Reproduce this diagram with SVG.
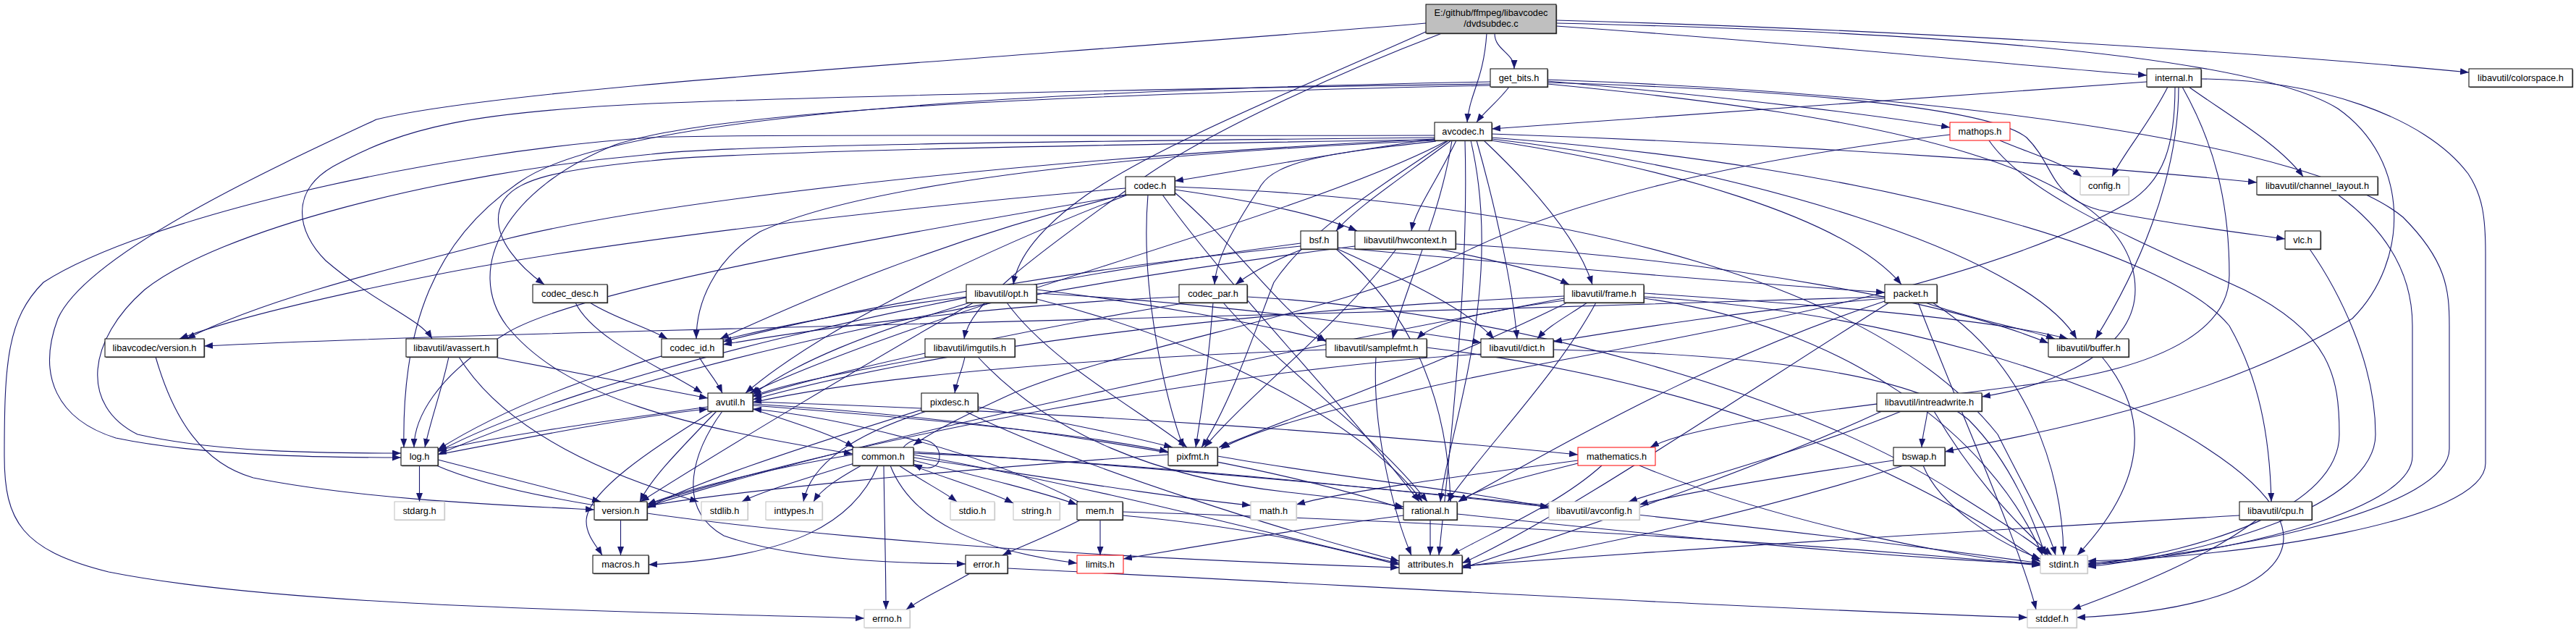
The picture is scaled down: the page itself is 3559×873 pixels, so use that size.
<svg xmlns="http://www.w3.org/2000/svg" width="3559" height="873" viewBox="0 0 3559 873">
<defs>
<marker id="a" viewBox="0 0 12 9" refX="12" refY="4.5" markerWidth="12" markerHeight="9" markerUnits="userSpaceOnUse" orient="auto"><path d="M0,0 L12,4.5 L0,9 z" fill="#191970"/></marker>
</defs>
<style>
.box{fill:#fff;stroke:#000;stroke-width:1}
.sh{fill:#555}
.gray .box{stroke:#bfbfbf}
.gray .sh{fill:#d6d6d6}
.red .box{stroke:#f00}
.root .box{fill:#bfbfbf}
text{font-family:"Liberation Sans",Arial,Helvetica,sans-serif;font-size:12.8px;fill:#000;text-anchor:middle}
#edges path{fill:none;stroke:#191970;stroke-width:1.1;marker-end:url(#a)}
</style>
<rect width="3559" height="873" fill="#fff"/>
<g id="edges">
<path d="M2065,46 C2065,70 2092,72 2092,95"/>
<path d="M2054,46 C2050,110 2030,130 2027,169"/>
<path d="M2150,36 C2500,60 2800,92 2966,104"/>
<path d="M2150,28 C2600,40 3100,70 3411,100"/>
<path d="M2150,32 C2600,42 3100,70 3230,150 C3330,220 3330,360 3250,440 C3050,560 2800,600 2687,624"/>
<path d="M1972,43 C1800,120 1600,200 1500,270 C1430,320 1405,360 1400,393"/>
<path d="M1992,46 C1850,100 1650,190 1560,260 C1420,360 1340,420 1332,468"/>
<path d="M1970,32 C1400,80 700,120 520,165 C380,230 120,350 80,440 C50,520 80,580 160,605 C280,630 450,632 554,632"/>
<path d="M1982,187 C1500,188 1000,185 900,190 C600,210 200,300 60,390 C10,440 6,500 6,630 C6,720 30,760 150,790 C400,840 900,845 1194,854"/>
<path d="M1982,190 C1500,195 1000,200 900,213 C600,240 300,320 200,400 C120,470 110,560 190,600 C300,625 450,626 554,626"/>
<path d="M1982,192 C1400,220 900,280 700,330 C500,380 350,420 258,468"/>
<path d="M1982,192 C1850,210 1720,235 1623,250"/>
<path d="M1982,193 C1500,200 1000,210 900,222 C760,235 700,250 690,290 C680,330 720,370 752,393"/>
<path d="M1984,195 C1850,210 1760,220 1740,260 C1700,320 1680,360 1678,393"/>
<path d="M1984,194 C1600,210 1200,250 1050,320 C985,360 962,420 962,468"/>
<path d="M2000,194 C1800,300 1300,420 1036,543"/>
<path d="M2006,194 C1990,300 1940,400 1924,468"/>
<path d="M2024,194 C2030,400 2000,650 1988,767"/>
<path d="M2061,192 C2400,230 2800,350 2869,468"/>
<path d="M2061,190 C2600,230 3000,350 3080,450 C3120,520 3136,600 3138,693"/>
<path d="M2061,185 C2500,200 2900,230 3118,252"/>
<path d="M2040,194 C2070,300 2090,400 2096,468"/>
<path d="M2050,194 C2120,260 2180,330 2200,393"/>
<path d="M2012,194 C1985,250 1955,290 1950,319"/>
<path d="M2000,195 C1870,280 1800,330 1760,390 C1740,440 1700,560 1660,618"/>
<path d="M2032,194 C2080,400 2000,600 1990,693"/>
<path d="M2005,194 C1930,250 1870,290 1846,319"/>
<path d="M2060,194 C2300,230 2550,300 2627,393"/>
<path d="M2085,120 C2070,140 2050,155 2040,169"/>
<path d="M2138,110 C2700,130 3200,200 3320,300 C3380,360 3384,400 3384,450 L3384,620 C3384,700 3100,762 2884,778"/>
<path d="M2059,118 C1500,130 1000,150 850,200 C700,260 640,370 700,450 C780,550 950,590 1178,627"/>
<path d="M2138,116 C2600,160 2950,230 2950,400 C2950,480 2850,530 2738,548"/>
<path d="M2059,113 C1400,125 850,160 720,250 C600,330 555,450 558,618"/>
<path d="M2059,116 C1600,122 1100,135 900,143 C650,155 560,175 460,230 C400,265 410,320 450,360 C520,420 580,440 597,468"/>
<path d="M2138,112 C2400,135 2600,160 2694,176"/>
<path d="M2138,114 C2500,125 2750,150 2800,190 C2840,230 2830,270 2900,290 C3000,310 3100,322 3157,330"/>
<path d="M2966,113 C2600,140 2300,160 2061,178"/>
<path d="M2995,120 C2970,170 2935,210 2918,244"/>
<path d="M3024,120 C3080,160 3150,200 3182,244"/>
<path d="M3041,109 C3200,110 3350,160 3410,240 C3430,270 3434,300 3434,350 L3434,640 C3434,720 3100,770 2884,775"/>
<path d="M3015,120 C3060,200 3080,280 3080,380 C3080,450 3000,500 2850,525 C2600,560 2350,580 2280,618"/>
<path d="M3005,120 C3005,200 2990,250 2940,280 C2700,420 2200,480 1950,540 C1800,575 1720,600 1687,620"/>
<path d="M3010,120 C3010,250 2950,380 2895,468"/>
<path d="M2763,194 C2800,210 2850,225 2876,244"/>
<path d="M2694,186 C2400,220 2150,280 2000,360 C1850,430 1550,480 1400,543 C1330,575 1290,595 1262,615"/>
<path d="M2748,194 C2800,270 2950,330 3100,400 C3220,460 3232,520 3232,600 C3232,700 3050,760 2884,781"/>
<path d="M3191,344 C3230,400 3282,500 3282,600 C3282,700 3050,765 2884,783"/>
<path d="M3230,269 C3300,320 3333,380 3333,450 L3333,630 C3333,710 3050,770 2884,780"/>
<path d="M1555,260 C1200,290 800,340 600,380 C450,410 320,440 248,468"/>
<path d="M1623,258 C2200,280 2600,400 2760,600 C2800,680 2830,730 2840,767"/>
<path d="M1623,262 C1750,280 1830,300 1875,319"/>
<path d="M1623,266 C1700,330 1760,420 1832,472"/>
<path d="M1558,269 C1400,330 1150,440 1030,543"/>
<path d="M1560,269 C1200,330 800,400 700,460 C600,520 572,580 572,618"/>
<path d="M1586,269 C1575,400 1610,550 1635,618"/>
<path d="M1606,269 C1700,400 1850,550 1961,693"/>
<path d="M1558,268 C1300,330 1100,420 995,468"/>
<path d="M795,418 C820,470 920,510 970,543"/>
<path d="M815,418 C850,440 890,450 922,468"/>
<path d="M966,493 C975,510 990,525 998,543"/>
<path d="M1629,410 C1400,420 1150,450 999,476"/>
<path d="M1640,418 C1450,450 1200,500 1040,548"/>
<path d="M1676,418 C1670,500 1660,570 1652,618"/>
<path d="M1690,418 C1760,500 1900,600 1972,693"/>
<path d="M1723,410 C2100,430 2500,550 2700,680 C2780,730 2810,750 2830,767"/>
<path d="M1800,344 C1760,360 1730,375 1707,393"/>
<path d="M1848,342 C2100,365 2400,390 2604,404"/>
<path d="M1848,344 C1950,390 2030,430 2064,468"/>
<path d="M1797,336 C1300,400 800,520 605,624"/>
<path d="M1846,344 C1950,430 2000,550 2004,693"/>
<path d="M1797,340 C1500,370 1200,420 999,472"/>
<path d="M2604,410 C2000,430 1200,450 900,457 C600,465 400,472 282,478"/>
<path d="M2660,418 C2720,440 2800,455 2839,468"/>
<path d="M2670,418 C2800,500 2850,650 2851,767"/>
<path d="M2650,418 C2700,550 2790,750 2813,842"/>
<path d="M2610,418 C2400,550 2150,720 2020,778"/>
<path d="M2604,412 C2400,430 2250,455 2146,472"/>
<path d="M2604,416 C2350,500 2150,620 2015,693"/>
<path d="M215,493 C240,580 280,640 350,660 C500,690 700,698 821,704"/>
<path d="M1987,344 C2070,360 2130,375 2168,393"/>
<path d="M2011,337 C2400,360 2700,420 2830,474"/>
<path d="M1929,344 C1850,450 1720,550 1664,618"/>
<path d="M1872,340 C1400,400 900,500 605,628"/>
<path d="M2271,410 C2600,430 2900,520 3050,620 C3250,750 3150,840 2869,853"/>
<path d="M2271,412 C2550,450 2750,600 2822,767"/>
<path d="M2161,409 C1700,430 1300,480 1040,552"/>
<path d="M2271,405 C2500,420 2750,440 2857,468"/>
<path d="M2193,418 C2160,440 2140,450 2124,468"/>
<path d="M2205,418 C2150,520 2050,620 2000,693"/>
<path d="M2161,415 C2050,430 1980,445 1958,468"/>
<path d="M2165,418 C2000,500 1800,570 1684,618"/>
<path d="M2161,412 C1800,480 1200,600 894,700"/>
<path d="M2904,493 C2960,560 2980,650 2870,767"/>
<path d="M3094,712 C2700,735 2300,760 2020,782"/>
<path d="M3118,718 C3050,770 2950,810 2863,842"/>
<path d="M2146,483 C2450,490 2650,520 2720,580 C2780,640 2810,720 2826,767"/>
<path d="M2046,489 C1700,510 1200,600 894,697"/>
<path d="M1832,483 C1500,495 1200,520 1040,556"/>
<path d="M1971,480 C2300,520 2600,620 2819,776"/>
<path d="M1901,493 C1895,600 1930,720 1950,767"/>
<path d="M1340,418 C1200,460 1100,500 1040,545"/>
<path d="M1335,410 C1000,450 750,530 605,621"/>
<path d="M1391,418 C1450,500 1580,570 1640,618"/>
<path d="M1432,413 C1700,480 1900,600 1965,693"/>
<path d="M1432,405 C1700,420 1900,450 2046,473"/>
<path d="M1432,400 C1600,420 1750,450 1832,470"/>
<path d="M1345,418 C1200,500 1000,620 885,693"/>
<path d="M1333,493 C1330,510 1322,525 1319,543"/>
<path d="M1282,493 C1200,510 1100,525 1040,547"/>
<path d="M1351,493 C1450,600 1600,660 1780,680 C1850,688 1900,693 1939,700"/>
<path d="M620,493 C610,540 595,580 587,618"/>
<path d="M634,493 C700,600 850,660 965,693"/>
<path d="M687,494 C800,515 900,535 978,550"/>
<path d="M1040,565 C1100,585 1150,600 1180,618"/>
<path d="M998,568 C960,620 930,700 1000,740 C1100,775 1250,778 1334,779"/>
<path d="M1040,558 C1400,580 1750,640 1939,703"/>
<path d="M990,568 C940,620 900,660 884,693"/>
<path d="M985,568 C900,620 810,680 810,720 C810,740 825,755 832,767"/>
<path d="M1040,555 C1500,570 1900,600 2180,628"/>
<path d="M978,562 C850,580 700,600 605,622"/>
<path d="M1040,560 C1300,580 1500,600 1614,624"/>
<path d="M1280,568 C1180,600 1120,640 1110,693"/>
<path d="M1333,568 C1500,650 1800,740 1933,775"/>
<path d="M1351,562 C1450,580 1550,600 1620,618"/>
<path d="M1273,566 C1100,620 950,670 894,702"/>
<path d="M2672,568 C2720,650 2780,720 2835,767"/>
<path d="M2627,568 C2500,620 2350,660 2250,693"/>
<path d="M2600,568 C2400,660 2150,740 2020,785"/>
<path d="M2663,568 C2660,590 2656,600 2655,618"/>
<path d="M579.5,643 L579.5,693"/>
<path d="M605,628 C750,600 880,575 978,565"/>
<path d="M603,643 C800,730 1500,770 1933,784"/>
<path d="M605,635 C700,660 780,680 830,693"/>
<path d="M1221,643 C1222,720 1224,790 1224,842"/>
<path d="M1190,643 C1160,660 1135,675 1124,693"/>
<path d="M1180,640 C1100,665 1050,680 1025,693"/>
<path d="M1242,643 C1275,665 1305,680 1322,693"/>
<path d="M1255,641 C1320,665 1370,680 1400,695"/>
<path d="M1262,636 C1360,660 1440,680 1488,697"/>
<path d="M1262,632 C1450,660 1600,685 1728,698"/>
<path d="M1230,643 C1260,720 1350,760 1488,778"/>
<path d="M1213,643 C1180,720 1100,770 896,780"/>
<path d="M1178,628 C1050,650 950,675 894,697"/>
<path d="M1262,624 C1700,650 2400,720 2819,778"/>
<path d="M1262,628 C1550,680 1800,750 1933,778"/>
<path d="M1262,626 C1600,640 1950,680 2140,700"/>
<path d="M1248,618 C1265,598 1298,608 1298,630 C1298,648 1280,650 1262,641"/>
<path d="M1682,630 C1850,660 2050,680 2140,702"/>
<path d="M1614,628 C1300,650 1000,680 894,699"/>
<path d="M2180,640 C2100,660 2040,675 2015,693"/>
<path d="M2213,643 C2150,700 2050,740 2005,767"/>
<path d="M2180,636 C2000,660 1850,680 1791,697"/>
<path d="M2265,643 C2450,720 2700,770 2819,780"/>
<path d="M2616,636 C2450,660 2330,680 2265,697"/>
<path d="M2630,643 C2450,700 2200,760 2020,783"/>
<path d="M2657,643 C2680,700 2760,750 2819,772"/>
<path d="M1520,718 L1520,767"/>
<path d="M1493,718 C1450,740 1410,755 1385,767"/>
<path d="M1490,693 C1350,620 1150,575 1040,565"/>
<path d="M1551,707 C2000,720 2500,750 2819,781"/>
<path d="M1551,712 C1750,730 1850,760 1933,780"/>
<path d="M1976,718 L1976,767"/>
<path d="M1939,712 C1800,730 1650,755 1552,772"/>
<path d="M2013,710 C2300,740 2600,770 2819,779"/>
<path d="M1340,792 C1310,810 1275,825 1252,842"/>
<path d="M1392,785 C1900,810 2400,840 2801,853"/>
<path d="M857.5,718 L857.5,767"/>
</g>
<g id="n_root" class="root"><rect class="sh" x="1971.2" y="7.2" width="180" height="40"/><rect class="box" x="1970" y="6" width="180" height="40"/><text x="2060" y="21.5">E:/github/ffmpeg/libavcodec</text><text x="2060" y="37">/dvdsubdec.c</text></g>
<g id="n_get_bits"><rect class="sh" x="2060.2" y="96.2" width="79" height="25"/><rect class="box" x="2059" y="95" width="79" height="25"/><text x="2098.5" y="112">get_bits.h</text></g>
<g id="n_internal"><rect class="sh" x="2967.2" y="96.2" width="75" height="25"/><rect class="box" x="2966" y="95" width="75" height="25"/><text x="3003.5" y="112">internal.h</text></g>
<g id="n_colorspace"><rect class="sh" x="3412.2" y="96.2" width="143" height="25"/><rect class="box" x="3411" y="95" width="143" height="25"/><text x="3482.5" y="112">libavutil/colorspace.h</text></g>
<g id="n_avcodec"><rect class="sh" x="1983.2" y="170.2" width="79" height="25"/><rect class="box" x="1982" y="169" width="79" height="25"/><text x="2021.5" y="186">avcodec.h</text></g>
<g id="n_mathops" class="red"><rect class="box" x="2694" y="169" width="83" height="25"/><text x="2735.5" y="186">mathops.h</text></g>
<g id="n_codec"><rect class="sh" x="1556.2" y="245.2" width="68" height="25"/><rect class="box" x="1555" y="244" width="68" height="25"/><text x="1589" y="261">codec.h</text></g>
<g id="n_config" class="gray"><rect class="sh" x="2875.2" y="245.2" width="67" height="25"/><rect class="box" x="2874" y="244" width="67" height="25"/><text x="2907.5" y="261">config.h</text></g>
<g id="n_channel_layout"><rect class="sh" x="3119.2" y="245.2" width="167" height="25"/><rect class="box" x="3118" y="244" width="167" height="25"/><text x="3201.5" y="261">libavutil/channel_layout.h</text></g>
<g id="n_bsf"><rect class="sh" x="1798.2" y="320.2" width="51" height="25"/><rect class="box" x="1797" y="319" width="51" height="25"/><text x="1822.5" y="336">bsf.h</text></g>
<g id="n_hwcontext"><rect class="sh" x="1873.2" y="320.2" width="139" height="25"/><rect class="box" x="1872" y="319" width="139" height="25"/><text x="1941.5" y="336">libavutil/hwcontext.h</text></g>
<g id="n_vlc"><rect class="sh" x="3158.2" y="320.2" width="49" height="25"/><rect class="box" x="3157" y="319" width="49" height="25"/><text x="3181.5" y="336">vlc.h</text></g>
<g id="n_codec_desc"><rect class="sh" x="737.2" y="394.2" width="103" height="25"/><rect class="box" x="736" y="393" width="103" height="25"/><text x="787.5" y="410">codec_desc.h</text></g>
<g id="n_opt"><rect class="sh" x="1336.2" y="394.2" width="97" height="25"/><rect class="box" x="1335" y="393" width="97" height="25"/><text x="1383.5" y="410">libavutil/opt.h</text></g>
<g id="n_codec_par"><rect class="sh" x="1630.2" y="394.2" width="94" height="25"/><rect class="box" x="1629" y="393" width="94" height="25"/><text x="1676" y="410">codec_par.h</text></g>
<g id="n_frame"><rect class="sh" x="2162.2" y="394.2" width="110" height="25"/><rect class="box" x="2161" y="393" width="110" height="25"/><text x="2216" y="410">libavutil/frame.h</text></g>
<g id="n_packet"><rect class="sh" x="2605.2" y="394.2" width="72" height="25"/><rect class="box" x="2604" y="393" width="72" height="25"/><text x="2640" y="410">packet.h</text></g>
<g id="n_lavc_version"><rect class="sh" x="146.2" y="469.2" width="137" height="25"/><rect class="box" x="145" y="468" width="137" height="25"/><text x="213.5" y="485">libavcodec/version.h</text></g>
<g id="n_avassert"><rect class="sh" x="562.2" y="469.2" width="126" height="25"/><rect class="box" x="561" y="468" width="126" height="25"/><text x="624" y="485">libavutil/avassert.h</text></g>
<g id="n_codec_id"><rect class="sh" x="915.2" y="469.2" width="85" height="25"/><rect class="box" x="914" y="468" width="85" height="25"/><text x="956.5" y="485">codec_id.h</text></g>
<g id="n_imgutils"><rect class="sh" x="1279.2" y="469.2" width="124" height="25"/><rect class="box" x="1278" y="468" width="124" height="25"/><text x="1340" y="485">libavutil/imgutils.h</text></g>
<g id="n_samplefmt"><rect class="sh" x="1833.2" y="469.2" width="139" height="25"/><rect class="box" x="1832" y="468" width="139" height="25"/><text x="1901.5" y="485">libavutil/samplefmt.h</text></g>
<g id="n_dict"><rect class="sh" x="2047.2" y="469.2" width="100" height="25"/><rect class="box" x="2046" y="468" width="100" height="25"/><text x="2096" y="485">libavutil/dict.h</text></g>
<g id="n_buffer"><rect class="sh" x="2831.2" y="469.2" width="111" height="25"/><rect class="box" x="2830" y="468" width="111" height="25"/><text x="2885.5" y="485">libavutil/buffer.h</text></g>
<g id="n_avutil"><rect class="sh" x="979.2" y="544.2" width="62" height="25"/><rect class="box" x="978" y="543" width="62" height="25"/><text x="1009" y="560">avutil.h</text></g>
<g id="n_pixdesc"><rect class="sh" x="1274.2" y="544.2" width="78" height="25"/><rect class="box" x="1273" y="543" width="78" height="25"/><text x="1312" y="560">pixdesc.h</text></g>
<g id="n_intreadwrite"><rect class="sh" x="2594.2" y="544.2" width="145" height="25"/><rect class="box" x="2593" y="543" width="145" height="25"/><text x="2665.5" y="560">libavutil/intreadwrite.h</text></g>
<g id="n_log"><rect class="sh" x="555.2" y="619.2" width="51" height="25"/><rect class="box" x="554" y="618" width="51" height="25"/><text x="579.5" y="635">log.h</text></g>
<g id="n_common"><rect class="sh" x="1179.2" y="619.2" width="84" height="25"/><rect class="box" x="1178" y="618" width="84" height="25"/><text x="1220" y="635">common.h</text></g>
<g id="n_pixfmt"><rect class="sh" x="1615.2" y="619.2" width="68" height="25"/><rect class="box" x="1614" y="618" width="68" height="25"/><text x="1648" y="635">pixfmt.h</text></g>
<g id="n_mathematics" class="red"><rect class="box" x="2180" y="618" width="107" height="25"/><text x="2233.5" y="635">mathematics.h</text></g>
<g id="n_bswap"><rect class="sh" x="2617.2" y="619.2" width="71" height="25"/><rect class="box" x="2616" y="618" width="71" height="25"/><text x="2651.5" y="635">bswap.h</text></g>
<g id="n_stdarg" class="gray"><rect class="sh" x="546.2" y="694.2" width="69" height="25"/><rect class="box" x="545" y="693" width="69" height="25"/><text x="579.5" y="710">stdarg.h</text></g>
<g id="n_version"><rect class="sh" x="822.2" y="694.2" width="73" height="25"/><rect class="box" x="821" y="693" width="73" height="25"/><text x="857.5" y="710">version.h</text></g>
<g id="n_stdlib" class="gray"><rect class="sh" x="970.2" y="694.2" width="64" height="25"/><rect class="box" x="969" y="693" width="64" height="25"/><text x="1001" y="710">stdlib.h</text></g>
<g id="n_inttypes" class="gray"><rect class="sh" x="1059.2" y="694.2" width="78" height="25"/><rect class="box" x="1058" y="693" width="78" height="25"/><text x="1097" y="710">inttypes.h</text></g>
<g id="n_stdio" class="gray"><rect class="sh" x="1314.2" y="694.2" width="61" height="25"/><rect class="box" x="1313" y="693" width="61" height="25"/><text x="1343.5" y="710">stdio.h</text></g>
<g id="n_string" class="gray"><rect class="sh" x="1401.2" y="694.2" width="64" height="25"/><rect class="box" x="1400" y="693" width="64" height="25"/><text x="1432" y="710">string.h</text></g>
<g id="n_mem"><rect class="sh" x="1489.2" y="694.2" width="63" height="25"/><rect class="box" x="1488" y="693" width="63" height="25"/><text x="1519.5" y="710">mem.h</text></g>
<g id="n_math" class="gray"><rect class="sh" x="1729.2" y="694.2" width="63" height="25"/><rect class="box" x="1728" y="693" width="63" height="25"/><text x="1759.5" y="710">math.h</text></g>
<g id="n_rational"><rect class="sh" x="1940.2" y="694.2" width="74" height="25"/><rect class="box" x="1939" y="693" width="74" height="25"/><text x="1976" y="710">rational.h</text></g>
<g id="n_avconfig" class="gray"><rect class="sh" x="2141.2" y="694.2" width="125" height="25"/><rect class="box" x="2140" y="693" width="125" height="25"/><text x="2202.5" y="710">libavutil/avconfig.h</text></g>
<g id="n_cpu"><rect class="sh" x="3095.2" y="694.2" width="100" height="25"/><rect class="box" x="3094" y="693" width="100" height="25"/><text x="3144" y="710">libavutil/cpu.h</text></g>
<g id="n_macros"><rect class="sh" x="820.2" y="768.2" width="77" height="25"/><rect class="box" x="819" y="767" width="77" height="25"/><text x="857.5" y="784">macros.h</text></g>
<g id="n_error"><rect class="sh" x="1335.2" y="768.2" width="58" height="25"/><rect class="box" x="1334" y="767" width="58" height="25"/><text x="1363" y="784">error.h</text></g>
<g id="n_limits" class="red"><rect class="box" x="1488" y="767" width="64" height="25"/><text x="1520" y="784">limits.h</text></g>
<g id="n_attributes"><rect class="sh" x="1934.2" y="768.2" width="87" height="25"/><rect class="box" x="1933" y="767" width="87" height="25"/><text x="1976.5" y="784">attributes.h</text></g>
<g id="n_stdint" class="gray"><rect class="sh" x="2820.2" y="768.2" width="65" height="25"/><rect class="box" x="2819" y="767" width="65" height="25"/><text x="2851.5" y="784">stdint.h</text></g>
<g id="n_errno" class="gray"><rect class="sh" x="1195.2" y="843.2" width="63" height="25"/><rect class="box" x="1194" y="842" width="63" height="25"/><text x="1225.5" y="859">errno.h</text></g>
<g id="n_stddef" class="gray"><rect class="sh" x="2802.2" y="843.2" width="68" height="25"/><rect class="box" x="2801" y="842" width="68" height="25"/><text x="2835" y="859">stddef.h</text></g>
</svg>
